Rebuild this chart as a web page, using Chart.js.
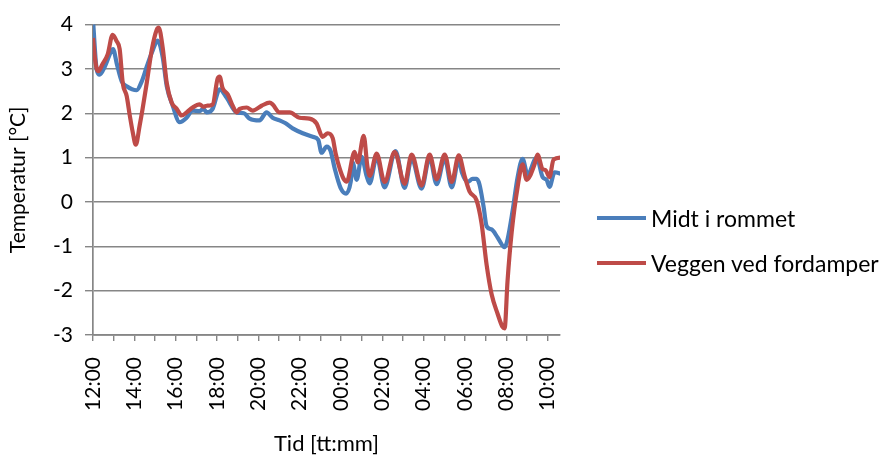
<!DOCTYPE html>
<html>
<head>
<meta charset="utf-8">
<script src="https://cdn.jsdelivr.net/npm/chart.js@4/dist/chart.umd.min.js"></script>
<style>
  html, body { margin: 0; padding: 0; background: #ffffff; }
  #wrap { position: relative; width: 883px; height: 460px; }
  #c { position: absolute; left: 0; top: 0; }
  .leg { position: absolute; left: 597px; height: 28px; display: flex; align-items: center;
         font-family: Lato, "Open Sans", sans-serif; font-size: 23px; color: #000; white-space: nowrap; }
  .leg .sw { width: 49px; height: 4px; margin-right: 5px; }
</style>
</head>
<body>
<div id="wrap">
  <canvas id="c" width="883" height="460"></canvas>
  <div class="leg" id="leg0" style="top:204px"><div class="sw" style="background:#4a7ebb"></div><span>Midt i rommet</span></div>
  <div class="leg" id="leg1" style="top:249px"><div class="sw" style="background:#be4b48"></div><span>Veggen ved fordamper</span></div>
</div>
<script>
// Series names
const seriesNames = ["Midt i rommet", "Veggen ved fordamper"];

// X tick labels (every 2 hours, starting 12:00)
const xTickLabels = ["12:00", "14:00", "16:00", "18:00", "20:00", "22:00",
                     "00:00", "02:00", "04:00", "06:00", "08:00", "10:00"];

// Time in hours after 12:00 and temperature [°C] — Midt i rommet
const hoursBlue = [0.00, 0.18, 0.32, 0.57, 0.90, 0.97, 1.15, 1.39, 1.63, 2.11, 2.36, 2.60, 2.89, 3.13, 3.37,
  3.57, 3.86, 4.19, 4.53, 4.82, 5.16, 5.35, 5.50, 5.79, 6.13, 6.47, 6.95, 7.30, 7.58, 8.06, 8.40, 8.69,
  9.03, 9.30, 9.66, 10.15, 10.63, 10.90, 11.06, 11.31, 11.50, 11.70, 11.98, 12.25, 12.47, 12.57, 12.76,
  13.00, 13.24, 13.39, 13.73, 14.11, 14.64, 15.08, 15.42, 15.90, 16.29, 16.63, 17.02, 17.36, 17.70,
  17.85, 18.13, 18.37, 18.56, 18.70, 18.90, 19.05, 19.29, 19.58, 19.92, 20.06, 20.31, 20.55, 20.79,
  21.03, 21.47, 21.76, 21.95, 22.09, 22.34, 22.67];
const tempBlue = [4.10, 2.98, 2.87, 3.05, 3.42, 3.45, 3.12, 2.72, 2.61, 2.52, 2.72, 3.05, 3.42, 3.64, 3.27,
  2.61, 2.17, 1.80, 1.90, 2.06, 2.05, 2.10, 2.02, 2.10, 2.54, 2.35, 2.02, 2.00, 1.88, 1.84, 2.02, 1.90,
  1.84, 1.78, 1.66, 1.55, 1.47, 1.40, 1.11, 1.25, 1.15, 0.75, 0.32, 0.19, 0.45, 0.89, 0.50,
  1.02, 0.59, 0.42, 1.02, 0.33, 1.15, 0.32, 0.98, 0.30, 1.00, 0.40, 0.98, 0.33, 0.95,
  0.67, 0.45, 0.52, 0.52, 0.40, -0.10, -0.55, -0.62, -0.80, -1.02, -0.85, -0.19, 0.56, 0.97,
  0.62, 1.00, 0.56, 0.50, 0.34, 0.67, 0.63];

// Time in hours after 12:00 and temperature [°C] — Veggen ved fordamper
const hoursRed = [0.00, 0.08, 0.18, 0.26, 0.45, 0.71, 0.95, 1.15, 1.29, 1.44, 1.63, 1.78, 1.92, 2.07, 2.26,
  2.40, 2.60, 2.84, 3.08, 3.18, 3.37, 3.57, 3.81, 4.05, 4.29, 4.53, 4.82, 5.16, 5.35, 5.50, 5.79, 6.03,
  6.13, 6.27, 6.52, 6.76, 6.95, 7.10, 7.44, 7.73, 8.16, 8.55, 8.69, 9.03, 9.52, 9.99, 10.48, 10.82,
  11.11, 11.36, 11.60, 11.74, 11.94, 12.13, 12.28, 12.66, 12.81, 13.10, 13.28, 13.39, 13.73, 14.11,
  14.60, 15.08, 15.42, 15.90, 16.29, 16.63, 17.02, 17.36, 17.70, 17.98, 18.22, 18.56, 18.80, 19.05,
  19.29, 19.58, 19.82, 19.92, 20.06, 20.26, 20.55, 20.79, 20.98, 21.37, 21.51, 21.76, 21.90, 22.09,
  22.29, 22.67];
const tempRed = [3.70, 3.30, 3.00, 2.95, 3.10, 3.33, 3.77, 3.62, 3.45, 2.68, 2.39, 1.95, 1.58, 1.29, 1.73,
  2.10, 2.68, 3.42, 3.88, 3.93, 3.49, 2.68, 2.24, 2.10, 1.95, 2.02, 2.13, 2.20, 2.15, 2.17, 2.20, 2.78,
  2.83, 2.57, 2.43, 2.17, 2.02, 2.10, 2.13, 2.06, 2.17, 2.24, 2.20, 2.02, 2.02, 1.90, 1.88, 1.77,
  1.47, 1.55, 1.44, 1.10, 0.75, 0.52, 0.46, 1.13, 0.89, 1.49, 0.80, 0.59, 1.09, 0.45,
  1.13, 0.41, 1.07, 0.37, 1.07, 0.51, 1.07, 0.45, 1.05, 0.59, 0.24, 0.04, -0.47, -1.42,
  -2.08, -2.52, -2.82, -2.85, -1.79, -0.69, 0.34, 0.85, 0.50, 0.85, 1.07, 0.74, 0.72, 0.56,
  0.96, 1.00];

// Axis ranges
const yMin = -3, yMax = 4;
const xMin = 0, xMax = 22.6;

const toXY = (xs, ys) => xs.map((x, i) => ({ x: x, y: ys[i] }));

const FONT = 'Lato, "Open Sans", sans-serif';
const GRID = '#868686';

new Chart(document.getElementById('c'), {
  type: 'line',
  data: {
    datasets: [
      { label: seriesNames[0], data: toXY(hoursBlue, tempBlue), borderColor: '#4a7ebb',
        borderWidth: 4.2, pointRadius: 0, cubicInterpolationMode: 'monotone', order: 1 },
      { label: seriesNames[1], data: toXY(hoursRed, tempRed), borderColor: '#be4b48',
        borderWidth: 4.2, pointRadius: 0, cubicInterpolationMode: 'monotone', order: 0 }
    ]
  },
  options: {
    responsive: false,
    animation: false,
    events: [],
    layout: { padding: { left: 0, top: 17, right: 323, bottom: 0 } },
    plugins: { legend: { display: false }, tooltip: { enabled: false } },
    scales: {
      x: {
        type: 'linear', min: xMin, max: xMax,
        afterFit: (s) => { s.height = 125; },
        afterBuildTicks: (s) => {
          const t = [];
          for (let h = 0; h <= 22; h++) t.push({ value: h });
          s.ticks = t;
        },
        ticks: {
          autoSkip: false, maxRotation: 90, minRotation: 90, padding: 16,
          color: '#000', font: { family: FONT, size: 21 },
          callback: (v) => (v % 2 === 0 ? xTickLabels[v / 2] : '')
        },
        grid: { drawOnChartArea: false, drawTicks: true, tickLength: 6, color: GRID, lineWidth: 1.4 },
        border: { color: GRID, width: 1.7 },
        title: { display: true, text: 'Tid [tt:mm]', color: '#000',
                 font: { family: FONT, size: 22 }, padding: { top: 4, bottom: 3 } }
      },
      y: {
        min: yMin, max: yMax,
        afterFit: (s) => { s.width = 93; },
        ticks: { stepSize: 1, padding: 12, color: '#000', font: { family: FONT, size: 21 } },
        grid: { color: GRID, lineWidth: 1.4, tickLength: 8 },
        border: { color: GRID, width: 1.7 },
        title: { display: true, text: 'Temperatur [°C]', color: '#000',
                 font: { family: FONT, size: 21 }, padding: { top: 6, bottom: 4 } }
      }
    }
  }
});
</script>
</body>
</html>
